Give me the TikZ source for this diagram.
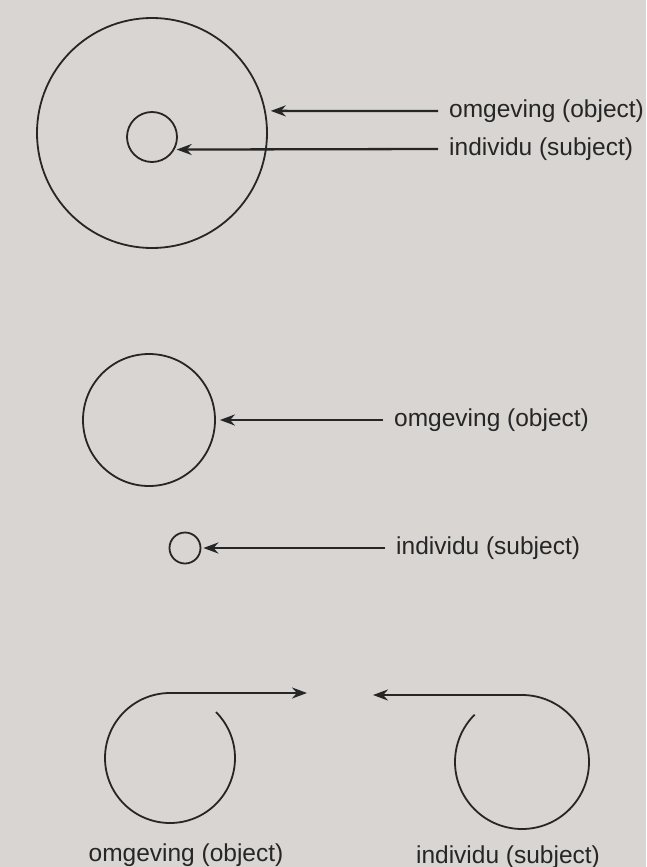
\documentclass[tikz,border=0pt]{standalone}
\usepackage{fontspec}
\setmainfont{Liberation Sans}
\usetikzlibrary{arrows.meta}
\definecolor{paper}{RGB}{216,213,210}
\definecolor{ink}{RGB}{38,38,38}
\begin{document}
\begin{tikzpicture}[x=1pt,y=-1pt,
  ring/.style={circle, draw=ink, line width=1.8pt, inner sep=0pt},
  curl/.style={draw=ink, line width=1.8pt},
  lbl/.style={font=\fontsize{24.5}{28}\selectfont, text=ink, inner sep=0pt},
  ptr/.style={draw=ink, line width=2.3pt, -{Stealth[length=15pt,width=11pt]}}]
\fill[paper] (0,0) rectangle (646,867);
\useasboundingbox (0,0) rectangle (646,867);

% individual inside the environment
\node[ring, minimum size=230pt] (outer) at (152,133) {};
\node[ring, minimum size=50pt] (inner) at (152,137) {};
\node[lbl, anchor=west] (envA) at (449,111) {omgeving (object)};
\node[lbl, anchor=west] (indA) at (449,149) {individu (subject)};
\draw[ptr] ([xshift=-11pt]envA.west) -- ([xshift=5pt]outer.11);
\draw[ptr] ([xshift=-11pt]indA.west) -- ([xshift=2pt]inner.-29);

% individual and environment apart
\node[ring, minimum size=132pt] (envB) at (149,420) {};
\node[ring, minimum size=31pt] (indB) at (185,548) {};
\node[lbl, anchor=west] (envBl) at (394,420) {omgeving (object)};
\node[lbl, anchor=west] (indBl) at (396,548) {individu (subject)};
\draw[ptr] ([xshift=-11pt]envBl.west) -- ([xshift=4pt]envB.east);
\draw[ptr] ([xshift=-11pt]indBl.west) -- ([xshift=2pt]indB.east);

% two curls pointing at each other
\coordinate (envC) at (170,758);
\coordinate (indC) at (522,762);
\coordinate (envTip) at (307,693);
\coordinate (indTip) at (373,695);
\draw[curl] ([shift={(-45:65)}]envC) arc[start angle=-405, end angle=-90, radius=65]
  coordinate (envTop);
\draw[ptr] (envTop) -- (envTip);
\draw[curl] ([shift={(-135:67)}]indC) arc[start angle=-135, end angle=-450, radius=67]
  coordinate (indTop);
\draw[ptr] (indTop) -- (indTip);
\node[lbl] (envClbl) at (186,855) {omgeving (object)};
\node[lbl] (indClbl) at (508,857) {individu (subject)};
\end{tikzpicture}
\end{document}
